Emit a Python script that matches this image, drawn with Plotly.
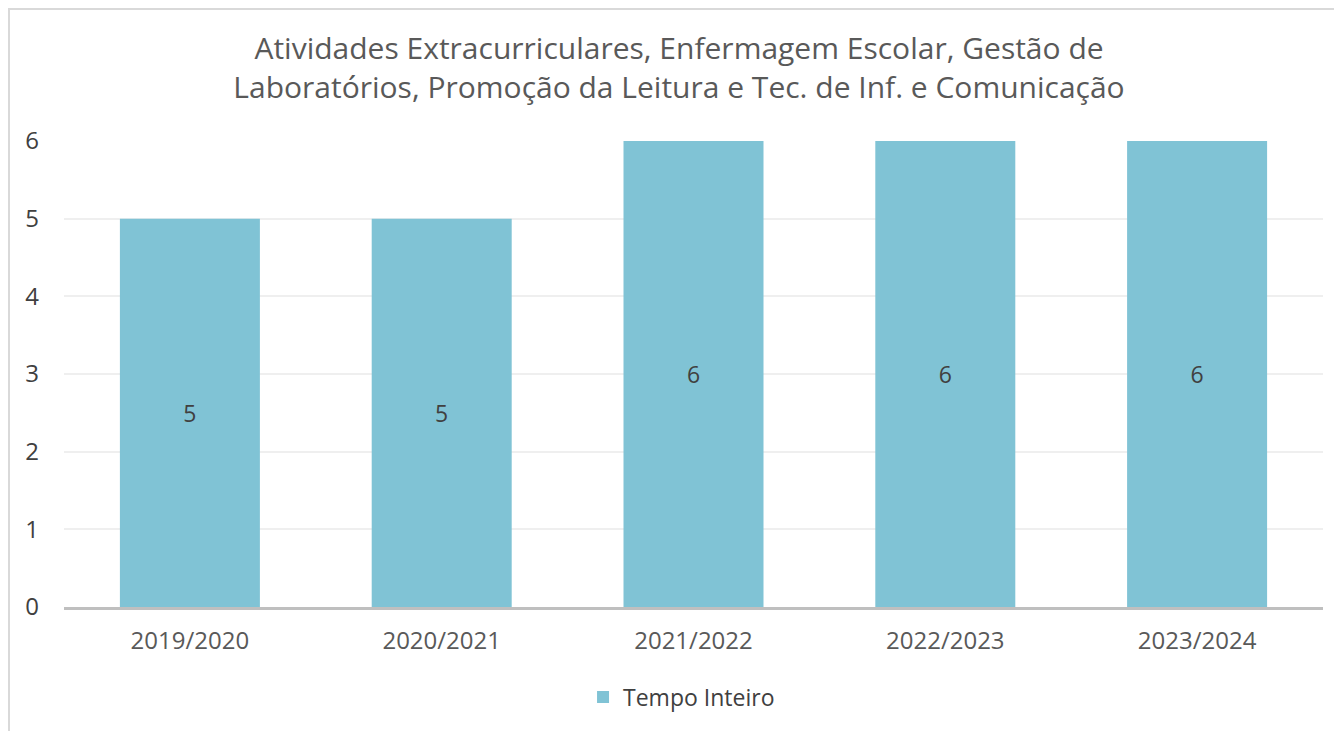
import plotly.graph_objects as go

anos = ['2019/2020', '2020/2021', '2021/2022', '2022/2023', '2023/2024']
tempo_inteiro = [5, 5, 6, 6, 6]
titulo = ('Atividades Extracurriculares, Enfermagem Escolar, Gestão de<br>'
          'Laboratórios, Promoção da Leitura e Tec. de Inf. e Comunicação')

W, H = 1342, 731
ml, mr, mt, mb = 56, 27, 133, 132
pw, ph = W - ml - mr, H - mt - mb

fig = go.Figure()
fig.add_trace(go.Bar(
    x=anos, y=tempo_inteiro, name='Tempo Inteiro',
    marker=dict(color='#80c3d5', line=dict(width=0)),
    text=tempo_inteiro, textposition='inside', insidetextanchor='middle',
    textfont=dict(size=23, color='#404040'),
))

fig.update_layout(
    width=W, height=H,
    margin=dict(l=ml, r=mr, t=mt, b=mb),
    paper_bgcolor='white', plot_bgcolor='white',
    font=dict(family='Open Sans, Noto Sans, sans-serif', color='#595959', size=23),
    title=dict(text=titulo, x=0.5, xanchor='center', y=0.93, yanchor='top',
               font=dict(size=30, color='#595959')),
    bargap=0.444,
    showlegend=True,
    legend=dict(orientation='h', x=0.4905, xanchor='center', y=-0.147, yanchor='top',
                font=dict(size=23, color='#404040')),
    xaxis=dict(showgrid=False, ticks='', showline=True, linecolor='#bfbfbf', linewidth=3,
               tickfont=dict(size=24, color='#595959'), ticklabelstandoff=10),
    yaxis=dict(range=[0, 6], dtick=1, showgrid=True, gridcolor='#efefef', gridwidth=1.5,
               zeroline=False, showline=False, ticks='',
               tickfont=dict(size=24, color='#404040'), ticklabelstandoff=24),
)

# moldura do gráfico
fig.add_shape(type='rect', xref='paper', yref='paper',
              x0=(1 - ml) / pw, x1=1.2, y0=-0.5, y1=1 + (mt - 1) / ph,
              line=dict(color='#d9d9d9', width=2), fillcolor='rgba(0,0,0,0)', layer='below')

fig.write_html('out.html')
